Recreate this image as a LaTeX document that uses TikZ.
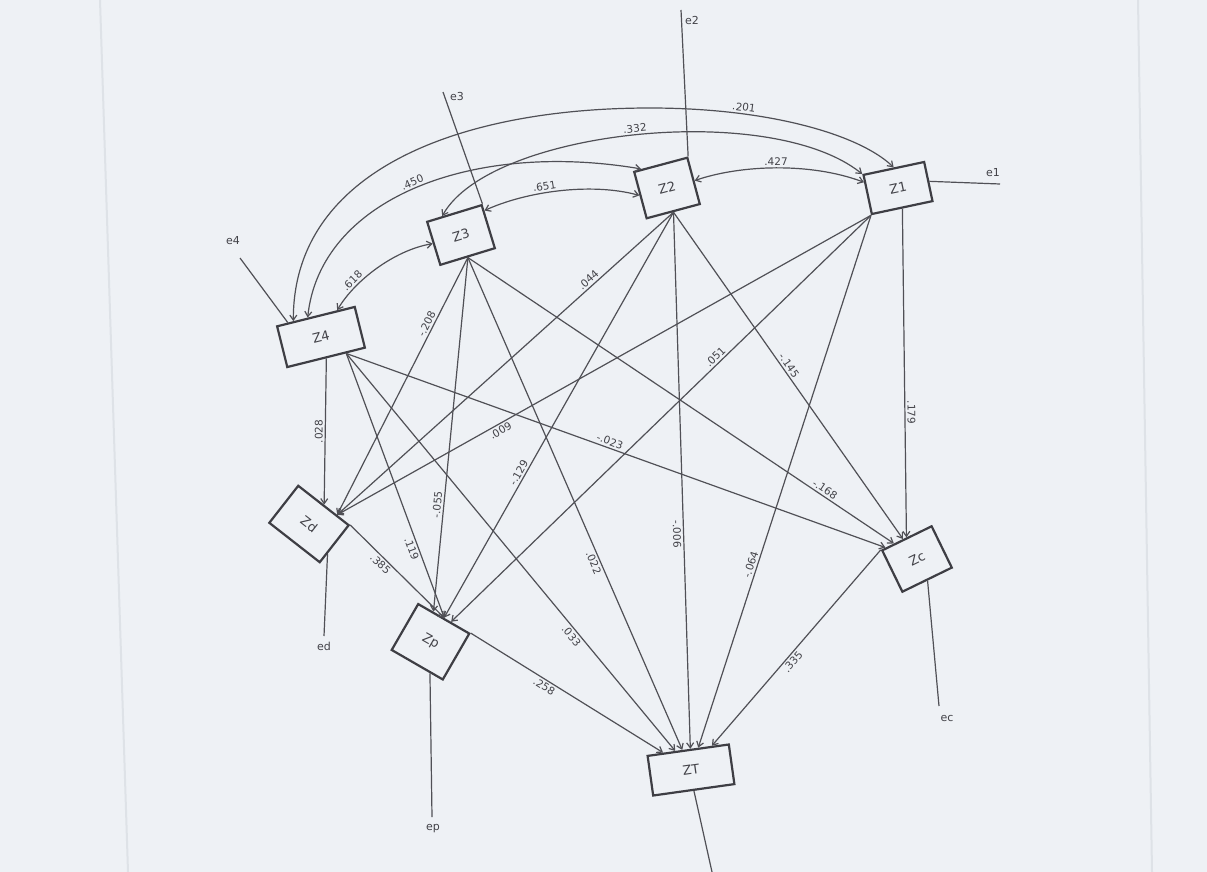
\documentclass[tikz,border=0pt]{standalone}
\usepackage{fontspec}
\setmainfont{DejaVu Sans}
\usetikzlibrary{arrows.meta,calc}
\definecolor{paper}{RGB}{238,241,245}
\definecolor{linec}{RGB}{80,80,86}
\definecolor{boxc}{RGB}{62,62,68}
\definecolor{txtc}{RGB}{66,66,72}
\definecolor{scan}{RGB}{222,226,231}
\begin{document}
\begin{tikzpicture}[x=1pt,y=1pt,
  var/.style={draw=boxc,line width=2.2pt,inner sep=0pt,text=txtc,font=\fontsize{13}{13}\selectfont},
  pth/.style={draw=linec,line width=1.2pt,-{Straight Barb[length=5pt,width=7pt]}},
  corr/.style={draw=linec,line width=1.2pt,{Straight Barb[length=5pt,width=7pt]}-{Straight Barb[length=5pt,width=7pt]}},
  err/.style={draw=linec,line width=1.2pt},
  lab/.style={font=\fontsize{10.5}{11}\selectfont,text=txtc,inner sep=2pt},
  etxt/.style={font=\fontsize{11}{11}\selectfont,text=txtc,inner sep=1pt}]
\fill[paper] (0,0) rectangle (1207,-872);
\useasboundingbox (0,0) rectangle (1207,-872);
\draw[scan,line width=2pt] (100,0) -- (128,-872);
\draw[scan,line width=2pt] (1138,0) -- (1152,-872);

% variables
\node[var,rotate=12,minimum width=62pt,minimum height=40pt] (Z1) at (898,-188) {Z1};
\node[var,rotate=15,minimum width=55pt,minimum height=48pt] (Z2) at (667,-188) {Z2};
\node[var,rotate=17,minimum width=57pt,minimum height=45pt] (Z3) at (461,-235) {Z3};
\node[var,rotate=14,minimum width=80pt,minimum height=42pt] (Z4) at (321,-337) {Z4};
\node[var,rotate=-38,minimum width=64pt,minimum height=47pt] (Zd) at (309,-524) {Zd};
\node[var,rotate=-30,minimum width=59pt,minimum height=53pt] (Zp) at (430.5,-641.75) {Zp};
\node[var,rotate=26,minimum width=55pt,minimum height=46pt] (Zc) at (917,-559) {Zc};
\node[var,rotate=8,minimum width=82pt,minimum height=40pt] (ZT) at (691,-770) {ZT};

\coordinate (Z4o) at ($(Z4.south)!0.5!(Z4.south east)$);
\coordinate (Zdin) at ($(Zd.north)!0.5!(Zd.north east)$);

% error terms
\coordinate (e1end) at (1000,-184);
\coordinate (e2end) at (681,-10);
\coordinate (e3end) at (443,-92);
\coordinate (e4end) at (240,-258);
\coordinate (edend) at (324,-636);
\coordinate (epend) at (432,-817);
\coordinate (ecend) at (939,-706);
\coordinate (ztend) at (712,-872);
\draw[err] (Z1.east) -- (e1end);
\draw[err] (Z2.north east) -- (e2end);
\draw[err] (Z3.north east) -- (e3end);
\draw[err] ($(Z4.north west)!0.15!(Z4.north east)$) -- (e4end);
\draw[err] ($(Zd.east)!0.5!(Zd.south east)$) -- (edend);
\draw[err] ($(Zp.south)!0.5!(Zp.south east)$) -- (epend);
\draw[err] (Zc.south) -- (ecend);
\draw[err] (ZT.south) -- (ztend);
\node[etxt] (e1) at (993,-173) {e1};
\node[etxt] (e2) at (692,-20) {e2};
\node[etxt] (e3) at (457,-96) {e3};
\node[etxt] (e4) at (233,-241) {e4};
\node[etxt] (ed) at (324,-646) {ed};
\node[etxt] (ep) at (433,-829) {ep};
\node[etxt] (ec) at (947,-718) {ec};

% correlations
\draw[corr] ($(Z4.north west)!0.22!(Z4.north east)$) .. controls (293,-170) and (460,-108) .. (650,-108)
   .. controls (770,-108) and (860,-135) .. node(l201)[lab,pos=.28,sloped,above]{.201} (Z1.north);
\draw[corr] ($(Z4.north west)!0.40!(Z4.north east)$) .. controls (320,-200) and (470,-140) ..
   node(l450)[lab,pos=.5,sloped,above]{.450} ($(Z2.north west)!0.15!(Z2.north east)$);
\draw[corr] ($(Z3.north west)!0.29!(Z3.north east)$) .. controls (490,-130) and (770,-100) ..
   node(l332)[lab,pos=.5,sloped,above]{.332} (Z1.north west);
\draw[corr] ($(Z4.north west)!0.77!(Z4.north east)$) .. controls (355,-280) and (395,-250) ..
   node(l618)[lab,pos=.28,sloped,above]{.618} (Z3.west);
\draw[corr] ($(Z3.north east)!0.15!(Z3.south east)$) .. controls (525,-192) and (590,-182) ..
   node(l651)[lab,pos=.42,sloped,above]{.651} (Z2.west);
\draw[corr] (Z2.east) .. controls (740,-165) and (810,-162) ..
   node(l427)[lab,pos=.5,sloped,above]{.427} ($(Z1.north west)!0.2!(Z1.south west)$);

% paths from Z4
\draw[pth] (Z4.south) -- node(l028)[lab,pos=.5,rotate=90,anchor=south]{.028} (Zd.north);
\draw[pth] (Z4o) -- node(l119)[lab,pos=.73,rotate=-69.6,anchor=north]{.119} (Zp.north);
\draw[pth] (Z4o) -- node(l033)[lab,pos=.70,rotate=-50.4,anchor=north]{.033} (ZT);
\draw[pth] (Z4o) -- node(l023)[lab,pos=.485,rotate=-19.9,anchor=south]{-.023} (Zc);
% paths from Z3
\draw[pth] (Z3.south) -- node(l208)[lab,pos=.27,rotate=63.7,anchor=south]{-.208} (Zdin);
\draw[pth] (Z3.south) -- node(l055)[lab,pos=.70,rotate=84.5,anchor=south]{-.055} (Zp);
\draw[pth] (Z3.south) -- node(l022)[lab,pos=.615,rotate=-66.5,anchor=north]{.022} (ZT);
\draw[pth] (Z3.south) -- node(l168)[lab,pos=.83,rotate=-33.9,anchor=south]{-.168} (Zc);
% paths from Z2
\draw[pth] (Z2.south) -- node(l044)[lab,pos=.24,rotate=42.6,anchor=south]{.044} (Zdin);
\draw[pth] (Z2.south) -- node(l129)[lab,pos=.65,rotate=60.5,anchor=south]{-.129} (Zp);
\draw[pth] (Z2.south) -- node(l006)[lab,pos=.60,rotate=-88.5,anchor=north]{-.006} (ZT);
\draw[pth] (Z2.south) -- node(l145)[lab,pos=.48,rotate=-55.5,anchor=south]{-.145} (Zc);
% paths from Z1
\draw[pth] (Z1.south west) -- node(l009)[lab,pos=.70,rotate=29.7,anchor=north]{.009} (Zdin);
\draw[pth] (Z1.south west) -- node(l051)[lab,pos=.36,rotate=44.1,anchor=south]{.051} (Zp);
\draw[pth] (Z1.south west) -- node(l064)[lab,pos=.66,rotate=72,anchor=south]{-.064} (ZT);
\draw[pth] (Z1.south) -- node(l179)[lab,pos=.62,rotate=-89.2,anchor=south]{.179} (Zc.north);
% mediators
\draw[pth] (Zd.north east) -- node(l385)[lab,pos=.37,rotate=-43,anchor=north]{.385} (Zp.north);
\draw[pth] (Zp.north east) -- node(l258)[lab,pos=.40,rotate=-31.8,anchor=north]{.258} (ZT);
\draw[pth] (Zc.north west) -- node(l335)[lab,pos=.55,rotate=49,anchor=north]{.335} (ZT);
\end{tikzpicture}
\end{document}
